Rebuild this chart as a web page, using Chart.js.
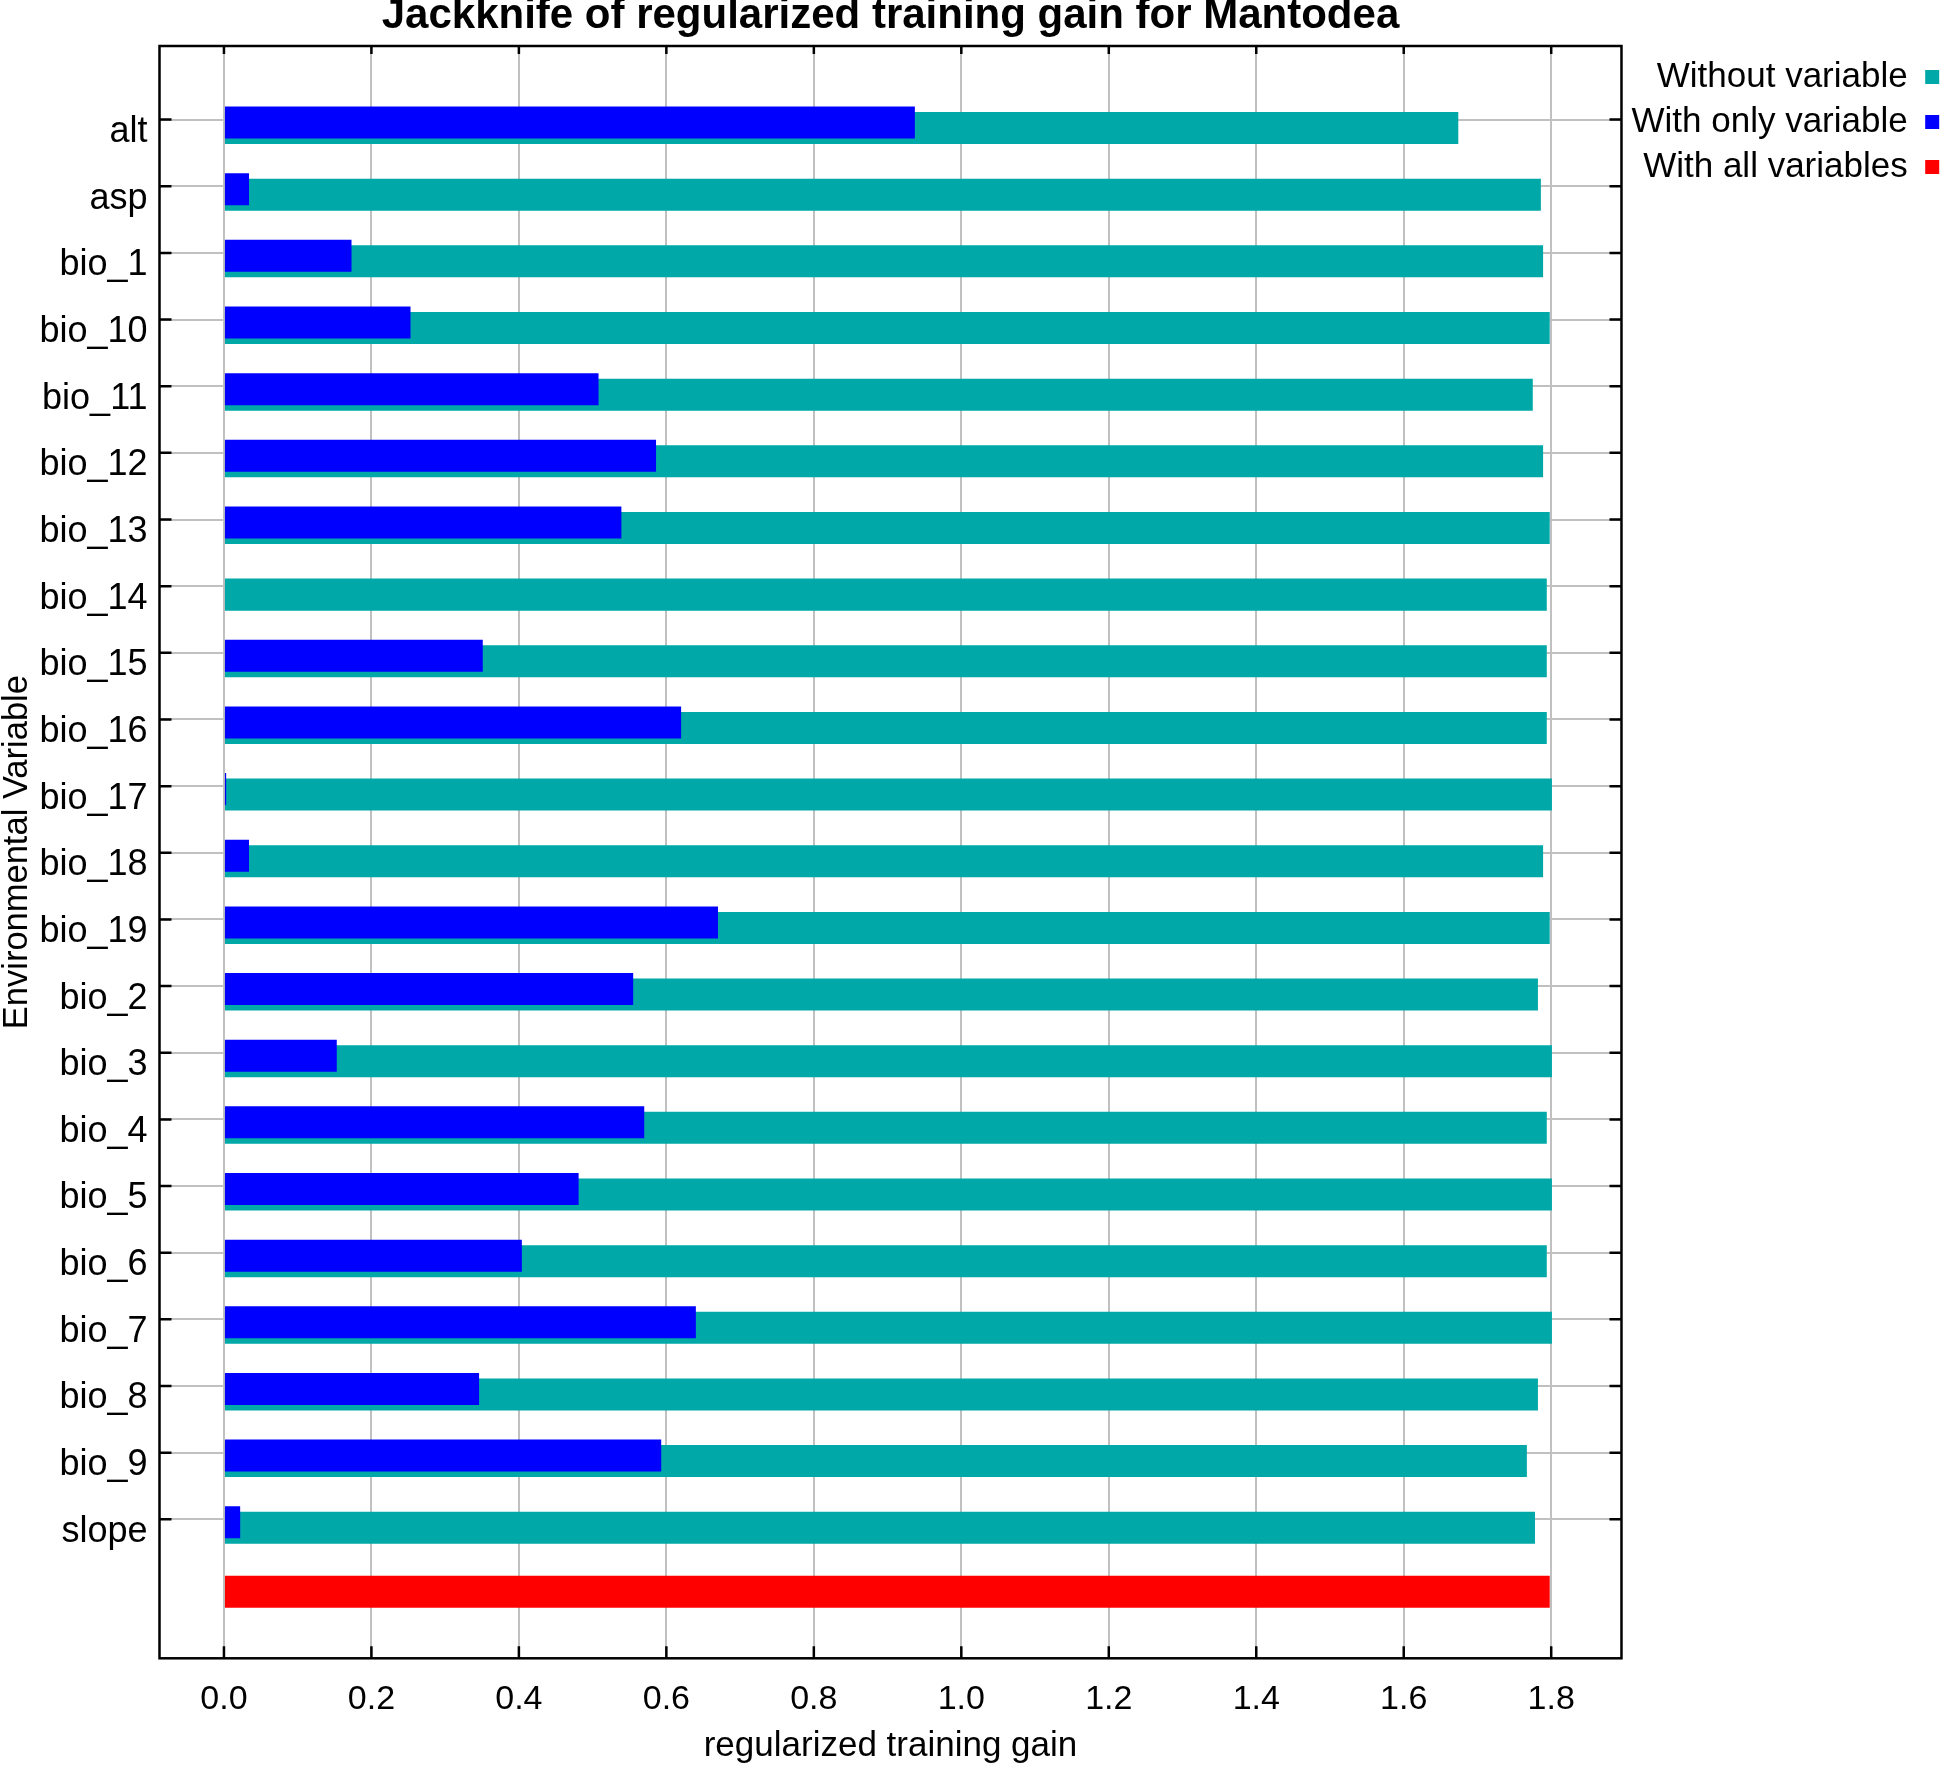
<!DOCTYPE html>
<html lang="en">
<head>
<meta charset="UTF-8">
<title>Jackknife of regularized training gain for Mantodea</title>
<style>
    html, body {
        margin: 0;
        padding: 0;
        background: #fff;
    }

    #wrap {
        width: 1946px;
        height: 1766px;
    }
</style>
<script src="https://cdn.jsdelivr.net/npm/chart.js@4.4.1/dist/chart.umd.min.js"></script>
</head>
<body>
<div id="wrap"><canvas id="jackknife"></canvas></div>
<script>
    // environmental variables, top to bottom
    const variables = ['alt', 'asp', 'bio_1', 'bio_10', 'bio_11', 'bio_12', 'bio_13', 'bio_14', 'bio_15', 'bio_16', 'bio_17',
        'bio_18', 'bio_19', 'bio_2', 'bio_3', 'bio_4', 'bio_5', 'bio_6', 'bio_7', 'bio_8', 'bio_9', 'slope'];

    // training gain when the variable is left out
    const withoutVariable = [1.674, 1.786, 1.789, 1.798, 1.775, 1.789, 1.798, 1.794, 1.794, 1.794, 1.801,
        1.789, 1.798, 1.782, 1.801, 1.794, 1.801, 1.794, 1.801, 1.782, 1.767, 1.778];

    // training gain with only that variable
    const withOnlyVariable = [0.937, 0.034, 0.173, 0.253, 0.508, 0.586, 0.539, 0, 0.351, 0.620, 0.003,
        0.034, 0.670, 0.555, 0.153, 0.570, 0.481, 0.404, 0.640, 0.346, 0.593, 0.022];

    // full model
    const withAllVariables = 1.798;

    const xTickValues = [0, 0.2, 0.4, 0.6, 0.8, 1.0, 1.2, 1.4, 1.6, 1.8];

    const fontFamily = "'Liberation Sans', Arial, sans-serif";
    const gridColor = 'rgb(192, 192, 192)';
    const tickShift = 0.0855;   // tick marks sit a little above the bar pair

    // one row per variable, plus a last row for the full model
    const allRow = variables.length;
    const rowOf = (vals, last) => vals.map((v, i) => ({ x: v, y: i })).concat([{ x: last, y: allRow }]);

    // draws the black frame with inward tick marks on all four sides
    const framePlugin = {
        id: 'frame',
        afterDraw(chart) {
            const { ctx, chartArea: a, scales: { x, y } } = chart;
            ctx.save();
            ctx.strokeStyle = '#000';
            ctx.lineWidth = 2.5;
            ctx.strokeRect(a.left, a.top, a.right - a.left, a.bottom - a.top);
            ctx.beginPath();
            x.ticks.forEach(t => {
                const px = x.getPixelForValue(t.value);
                ctx.moveTo(px, a.bottom);
                ctx.lineTo(px, a.bottom - 12);
                ctx.moveTo(px, a.top);
                ctx.lineTo(px, a.top + 8);
            });
            y.ticks.forEach(t => {
                const py = y.getPixelForValue(t.value);
                ctx.moveTo(a.left, py);
                ctx.lineTo(a.left + 12, py);
                ctx.moveTo(a.right, py);
                ctx.lineTo(a.right - 12, py);
            });
            ctx.stroke();
            ctx.restore();
        }
    };

    const ctx = document.getElementById('jackknife').getContext('2d');
    const chart = new Chart(ctx, {
        type: 'bar',
        data: {
            datasets: [{
                label: 'Without variable',
                data: rowOf(withoutVariable, null),
                backgroundColor: '#00a8a8',
                borderWidth: 0,
                order: 1,
                categoryPercentage: 0.165,
                barPercentage: 5.82,
                skipNull: true
            }, {
                label: 'With only variable',
                data: rowOf(withOnlyVariable, null),
                backgroundColor: '#0000ff',
                borderWidth: 0,
                order: 0,
                categoryPercentage: 0.165,
                barPercentage: 5.82,
                skipNull: true
            }, {
                label: 'With all variables',
                data: rowOf(variables.map(() => null), withAllVariables),
                backgroundColor: '#ff0000',
                borderWidth: 0,
                order: 2,
                categoryPercentage: 0.165,
                barPercentage: 2.91,
                skipNull: true
            }]
        },
        options: {
            indexAxis: 'y',
            responsive: true,
            maintainAspectRatio: false,
            animation: false,
            layout: { padding: { right: -3.2 } },
            scales: {
                x: {
                    type: 'linear',
                    min: -0.0874,
                    max: 1.8953,
                    afterBuildTicks: s => { s.ticks = xTickValues.map(v => ({ value: v })); },
                    afterFit: s => { s.height = 107.7; },
                    ticks: {
                        callback: v => v.toFixed(1),
                        color: '#000',
                        font: { family: fontFamily, size: 34 },
                        padding: 21,
                        maxRotation: 0,
                        autoSkip: false
                    },
                    grid: { color: gridColor, lineWidth: 2, drawTicks: false },
                    border: { display: false },
                    title: {
                        display: true,
                        text: 'regularized training gain',
                        color: '#000',
                        font: { family: fontFamily, size: 35, lineHeight: 1 },
                        padding: { top: 0, bottom: 2 }
                    }
                },
                y: {
                    type: 'linear',
                    reverse: true,
                    offset: false,
                    min: -1.19,
                    max: 23.0,
                    afterBuildTicks: s => { s.ticks = variables.map((v, i) => ({ value: i - tickShift })); },
                    afterFit: s => { s.width = 159.5; },
                    ticks: {
                        callback: (v, i) => variables[i],
                        color: '#000',
                        font: { family: fontFamily, size: 36 },
                        padding: 12,
                        labelOffset: 12.5,
                        autoSkip: false
                    },
                    grid: { color: gridColor, lineWidth: 2, drawTicks: false, offset: false },
                    border: { display: false },
                    title: {
                        display: true,
                        text: 'Environmental Variable',
                        color: '#000',
                        font: { family: fontFamily, size: 34.5, lineHeight: 1 },
                        padding: 0
                    }
                }
            },
            plugins: {
                title: {
                    display: true,
                    fullSize: false,
                    text: 'Jackknife of regularized training gain for Mantodea',
                    color: '#000',
                    font: { family: fontFamily, size: 42, weight: 'bold', lineHeight: 0.8 },
                    padding: { top: 0, bottom: 12.4 }
                },
                legend: {
                    position: 'right',
                    align: 'start',
                    rtl: true,
                    textDirection: 'ltr',
                    title: {
                        display: true,
                        text: '',
                        font: { size: 10, lineHeight: 1 },
                        padding: { top: 39.5, bottom: 0 }
                    },
                    labels: {
                        boxWidth: 14,
                        boxHeight: 14,
                        padding: 10,
                        color: '#000',
                        font: { family: fontFamily, size: 35 },
                        sort: (a, b) => a.datasetIndex - b.datasetIndex
                    }
                },
                tooltip: { enabled: false }
            }
        },
        plugins: [framePlugin]
    });
</script>
</body>
</html>
